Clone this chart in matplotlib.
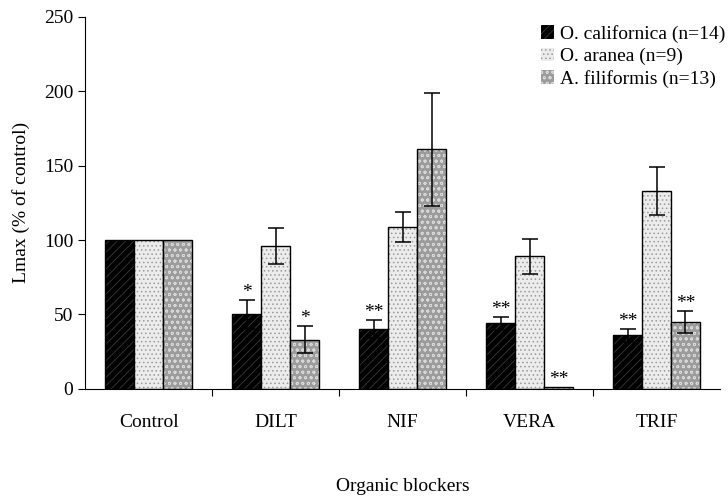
import matplotlib
matplotlib.use('Agg')
import matplotlib.pyplot as plt
import numpy as np
from matplotlib.patches import Patch

plt.rcParams['font.family'] = ['Liberation Serif', 'DejaVu Serif']
plt.rcParams['hatch.linewidth'] = 0.6

# Data
categories = ['Control', 'DILT', 'NIF', 'VERA', 'TRIF']
series_names = ['O. californica (n=14)', 'O. aranea (n=9)', 'A. filiformis (n=13)']
californica = [100, 50, 40, 44, 36]
californica_err = [0, 10, 6, 4.5, 4.5]
aranea = [100, 96, 109, 89, 133]
aranea_err = [0, 12, 10, 12, 16]
filiformis = [100, 33, 161, 1, 45]
filiformis_err = [0, 9, 38, 0, 7.5]
# significance marks
californica_sig = ['', '*', '**', '**', '**']
aranea_sig = ['', '', '', '', '']
filiformis_sig = ['', '*', '', '**', '**']

values = [californica, aranea, filiformis]
errors = [californica_err, aranea_err, filiformis_err]
sigs = [californica_sig, aranea_sig, filiformis_sig]
faces = ['#000000', '#ececec', '#9c9c9c']
hatch_cols = ['#3a3a3a', '#9a9a9a', '#d8d8d8']
hatches = ['////', '....', 'ooo']

fig = plt.figure(figsize=(7.28, 4.96), dpi=100)
ax = fig.add_axes([0.117, 0.216, 0.872, 0.75])

x = np.arange(len(categories))
w = 0.228
for i in range(3):
    pos = x + (i - 1) * w
    ax.bar(pos, values[i], w, color=faces[i], hatch=hatches[i],
           edgecolor=hatch_cols[i], linewidth=0)
    ax.bar(pos, values[i], w, fill=False, edgecolor='black', linewidth=1.0)
    err = np.array(errors[i])
    mask = err > 0
    ax.errorbar(pos[mask], np.array(values[i])[mask], yerr=err[mask], fmt='none',
                ecolor='black', elinewidth=1.1, capsize=6, capthick=1.1)
    for p, v, e, s in zip(pos, values[i], errors[i], sigs[i]):
        if s:
            ax.text(p, v + e + 2, s, ha='center', va='baseline', fontsize=14)

ax.set_xlim(-0.5, 4.5)
ax.set_ylim(0, 250)
ax.set_yticks(np.arange(0, 251, 50))
ax.set_xticks(np.arange(0.5, 4.5, 1))
ax.set_xticklabels([])
ax.set_xticks(x, minor=True)
ax.set_xticklabels(categories, minor=True, fontsize=14)
ax.tick_params(axis='x', which='minor', length=0, pad=18)
ax.tick_params(axis='x', which='major', length=5, direction='out')
ax.tick_params(axis='y', labelsize=14, length=5, direction='out')
for s in ['top', 'right']:
    ax.spines[s].set_visible(False)

ax.set_ylabel('Lmax (% of control)', fontsize=14, labelpad=10)
ax.set_xlabel('Organic blockers', fontsize=14, labelpad=34)

handles = [Patch(facecolor=faces[i], hatch=hatches[i], edgecolor=hatch_cols[i], linewidth=0)
           for i in range(3)]
ax.legend(handles, series_names, loc='upper right', bbox_to_anchor=(1.03, 1.015),
          frameon=False, fontsize=14, handlelength=0.7, handleheight=0.7,
          handletextpad=0.3, labelspacing=0.25, borderaxespad=0.3)

fig.savefig('out.png', dpi=100)
